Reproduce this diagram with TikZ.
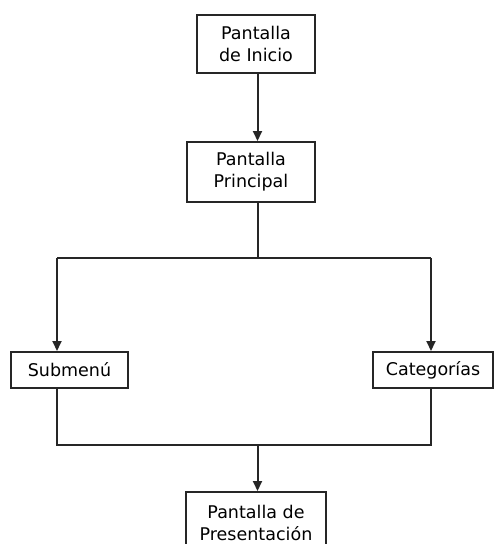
\documentclass[tikz,border=0pt]{standalone}
\usepackage{fontspec}
\setmainfont{DejaVu Sans}
\usetikzlibrary{arrows.meta}
\begin{document}
\begin{tikzpicture}[x=1pt,y=-1pt,
  box/.style={draw=black!85,line width=2pt,align=center,inner sep=0pt,
    font=\fontsize{17.5}{22}\selectfont},
  conn/.style={draw=black!85,line width=2pt},
  arr/.style={conn,-{Triangle[width=9pt,length=10pt]}}]
\useasboundingbox (0,0) rectangle (494,544);
\fill[white] (0,0) rectangle (494,544);
\clip (0,0) rectangle (494,544);
\node[box,minimum width=118pt,minimum height=58pt] (inicio) at (256,44) {Pantalla\\de Inicio};
\node[box,minimum width=128pt,minimum height=60pt] (principal) at (251,172) {Pantalla\\Principal};
\node[box,minimum width=117pt,minimum height=36pt] (submenu) at (69.5,370) {Submenú};
\node[box,minimum width=120pt,minimum height=36pt] (categorias) at (433,370) {Categorías};
\node[box,minimum width=140pt,minimum height=62pt] (presentacion) at (256,523) {Pantalla de\\Presentación};
\coordinate (top) at (257.5,258);
\coordinate (bot) at (257.5,445);
\coordinate (xl) at (57,0);
\coordinate (xr) at (431,0);
\draw[arr] (inicio.south -| top) -- (principal.north -| top);
\draw[conn] (principal.south -| top) -- (top);
\draw[conn] (top -| xl) -- (top -| xr);
\draw[arr] (top -| xl) -- (submenu.north -| xl);
\draw[arr] (top -| xr) -- (categorias.north -| xr);
\draw[conn] (submenu.south -| xl) -- (bot -| xl) -- (bot -| xr) -- (categorias.south -| xr);
\draw[arr] (bot) -- (presentacion.north -| bot);
\end{tikzpicture}
\end{document}
